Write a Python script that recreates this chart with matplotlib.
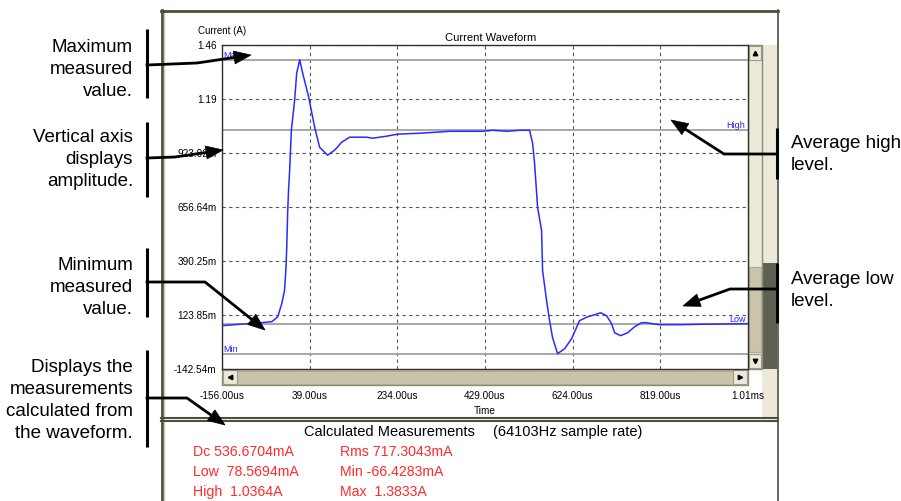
import matplotlib.pyplot as plt
from matplotlib.patches import Rectangle, Polygon
import numpy as np

plt.rcParams['font.family'] = ['Liberation Sans', 'DejaVu Sans']

# waveform (time in us, current in A)
time_us = [-156, -117, -68, -45, -32, -23, -17, -14, -12, -10, -8, -5.5, -1.7,
           5.6, 10.1, 16.8, 23.4, 36.8, 50.1, 61.2, 79.0, 94.6, 110.1, 127.9,
           150.1, 165.8, 179.1, 210.2, 234.7, 288.0, 350.3, 423.7, 445.9, 477.0,
           505.9, 528.2, 534.9, 539.3, 546.0, 554.9, 557.1, 566.0, 572.6, 579.3,
           590.4, 606.0, 621.6, 639.4, 657.2, 672.8, 686.1, 699.5, 710.6, 717.3,
           730.6, 746.2, 761.8, 777.3, 788.4, 801.8, 817.4, 861.9, 906.4, 1014]
current_a = [0.071, 0.078, 0.086, 0.091, 0.115, 0.180, 0.244, 0.343, 0.457, 0.625,
             0.739, 0.838, 1.035, 1.184, 1.317, 1.3833, 1.317, 1.199, 1.050, 0.951,
             0.912, 0.937, 0.976, 1.001, 1.001, 1.001, 0.996, 1.006, 1.016, 1.021,
             1.030, 1.030, 1.035, 1.030, 1.035, 1.035, 0.971, 0.872, 0.655, 0.541,
             0.343, 0.195, 0.096, 0.012, -0.0664, -0.043, 0.007, 0.096, 0.115, 0.125,
             0.135, 0.120, 0.081, 0.036, 0.022, 0.036, 0.066, 0.086, 0.086, 0.081,
             0.076, 0.076, 0.078, 0.081]

# calculated levels
level_names = ["Max", "High", "Low", "Min"]
level_values = [1.3833, 1.0364, 0.0785694, -0.0664283]

x_ticks = [-156, 39, 234, 429, 624, 819, 1014]
x_labels = ["-156.00us", "39.00us", "234.00us", "429.00us", "624.00us", "819.00us", "1.01ms"]
y_ticks = [-0.14254, 0.12385, 0.39025, 0.65664, 0.92302, 1.18941, 1.4558]
y_labels = ["-142.54m", "123.85m", "390.25m", "656.64m", "923.02m", "1.19", "1.46"]

meas_left = ["Dc 536.6704mA", "Low  78.5694mA", "High  1.0364A"]
meas_right = ["Rms 717.3043mA", "Min -66.4283mA", "Max  1.3833A"]

W, H = 901, 501
fig = plt.figure(figsize=(W / 100, H / 100), dpi=100)
fig.patch.set_facecolor("white")


def px_axes(z):
    a = fig.add_axes([0, 0, 1, 1], zorder=z)
    a.set_xlim(0, W)
    a.set_ylim(H, 0)
    a.axis("off")
    a.patch.set_alpha(0)
    return a


bg = px_axes(0)
fg = px_axes(2)

# plot area in pixels
L, R, T, B = 222, 748, 45, 369
ax = fig.add_axes([L / W, 1 - B / H, (R - L) / W, (B - T) / H], zorder=1)
ax.set_facecolor("white")

# window frame
dark = "#4e4e3e"
bg.plot([161.5, 161.5], [10, 501], color=dark, lw=2)
bg.plot([164, 164], [12, 501], color="#cfcab2", lw=1)
bg.plot([161, 777.5], [10.5, 10.5], color=dark, lw=2)
bg.plot([777.5, 777.5], [10, 501], color=dark, lw=1.2)
bg.plot([161, 777.5], [417.5, 417.5], color=dark, lw=1.5)
bg.plot([161, 777.5], [421, 421], color=dark, lw=1.5)

# outer strip right of the plot
bg.add_patch(Rectangle((762, 45), 14.5, 372, fc="#ece9d8", ec="none"))
bg.add_patch(Rectangle((762, 263), 14.5, 106, fc="#5f5f52", ec="none"))

# horizontal scrollbar
bg.add_patch(Rectangle((L, B), R - L, 16, fc="#d8d2bc", ec="#8c8c7c", lw=1))
bg.add_patch(Rectangle((L + 15, B + 1.5), R - L - 30, 13, fc="#cbc4ac", ec="#b0a890", lw=0.8))
bg.add_patch(Rectangle((L + 1, B + 1), 14, 14, fc="#ece9d8", ec="#a09a88", lw=0.8))
bg.add_patch(Rectangle((R - 15, B + 1), 14, 14, fc="#ece9d8", ec="#a09a88", lw=0.8))
bg.plot(L + 8, B + 8, marker="<", ms=3.2, color="black")
bg.plot(R - 8, B + 8, marker=">", ms=3.2, color="black")

# vertical scrollbar
bg.add_patch(Rectangle((R, T), 14, B - T, fc="#ece9d8", ec="#8c8c7c", lw=1))
bg.add_patch(Rectangle((R + 1, 267), 12, 85, fc="#cbc4ac", ec="#b0a890", lw=0.8))
bg.add_patch(Rectangle((R + 1, T + 1), 12, 14, fc="#ece9d8", ec="#a09a88", lw=0.8))
bg.add_patch(Rectangle((R + 1, B - 15), 12, 14, fc="#ece9d8", ec="#a09a88", lw=0.8))
bg.plot(R + 7, T + 8, marker="^", ms=3.2, color="black")
bg.plot(R + 7, B - 8, marker="v", ms=3.2, color="black")

# waveform plot
ax.plot(time_us, current_a, color="#2b2bff", lw=1.1, zorder=3)
for name, val in zip(level_names, level_values):
    ax.axhline(val, color="#a8a8a8", lw=1.4, zorder=2)
    if name in ("Max", "Min"):
        ax.text(-153, val, name, color="#2020ff", fontsize=6.5, ha="left", va="bottom")
    else:
        ax.text(1008, val, name, color="#2020ff", fontsize=6.5, ha="right", va="bottom")

ax.set_xlim(x_ticks[0], x_ticks[-1])
ax.set_ylim(y_ticks[0], y_ticks[-1])
ax.set_xticks(x_ticks, x_labels)
ax.set_yticks(y_ticks, y_labels)
ax.tick_params(length=0, labelsize=7.2)
ax.tick_params(axis="y", pad=4)
ax.tick_params(axis="x", pad=15.5)
ax.grid(True, ls=(0, (3, 3)), color="#555555", lw=0.8)
for sp in ax.spines.values():
    sp.set_color("#303030")
    sp.set_linewidth(1)

bg.text(198, 31, "Current (A)", fontsize=7, ha="left", va="center")
bg.text(491, 38, "Current Waveform", fontsize=8, ha="center", va="center")
bg.text(485, 411, "Time", fontsize=7.2, ha="center", va="center")

# measurement panel
bg.text(304, 436, "Calculated Measurements", fontsize=10.5, ha="left", va="baseline")
bg.text(493, 436, "(64103Hz sample rate)", fontsize=10.5, ha="left", va="baseline")
for i, (a, b) in enumerate(zip(meas_left, meas_right)):
    yb = 456 + i * 19.8
    bg.text(193, yb, a, fontsize=10.2, color="#ff2a2a", ha="left", va="baseline")
    bg.text(340, yb, b, fontsize=10.2, color="#ff2a2a", ha="left", va="baseline")

# callouts
left_notes = [
    (["Maximum", "measured", "value."], [45, 67, 89]),
    (["Vertical axis", "displays", "amplitude."], [136, 158, 180]),
    (["Minimum", "measured", "value."], [264, 286, 308]),
    (["Displays the", "measurements", "calculated from", "the waveform."], [365, 387, 409, 431]),
]
right_notes = [
    (["Average high", "level."], [141, 163]),
    (["Average low", "level."], [278, 300]),
]
for lines, ys in left_notes:
    for s, y in zip(lines, ys):
        fg.text(133, y + 6.5, s, fontsize=13.5, ha="right", va="baseline")
for lines, ys in right_notes:
    for s, y in zip(lines, ys):
        fg.text(791, y + 6.5, s, fontsize=13.5, ha="left", va="baseline")

brackets = [(147, 29, 98), (147, 122, 197), (147, 248, 317), (147, 350, 447),
            (777, 128, 179), (777, 263, 323)]
for x, y0, y1 in brackets:
    fg.plot([x, x], [y0, y1], color="black", lw=2.2, solid_capstyle="butt")

arrows = [
    [(147, 65), (197, 63), (251, 55)],
    [(147, 158), (175, 157), (223, 150)],
    [(147, 282), (205, 282), (265, 330)],
    [(147, 398), (187, 398), (225, 425)],
    [(777, 154), (724, 154), (671, 120)],
    [(777, 289), (730, 289), (683, 306)],
]
head_len, head_w = 17, 13
for pts in arrows:
    p = np.array(pts, dtype=float)
    d = p[-1] - p[-2]
    d /= np.hypot(*d)
    n = np.array([-d[1], d[0]])
    base = p[-1] - d * head_len
    line = np.vstack([p[:-1], base + d * 2])
    fg.plot(line[:, 0], line[:, 1], color="black", lw=2, solid_joinstyle="miter")
    tri = [p[-1], base + n * head_w / 2, base - n * head_w / 2]
    fg.add_patch(Polygon(tri, closed=True, fc="black", ec="black", lw=0.5))

fig.savefig("out.png", dpi=100)
